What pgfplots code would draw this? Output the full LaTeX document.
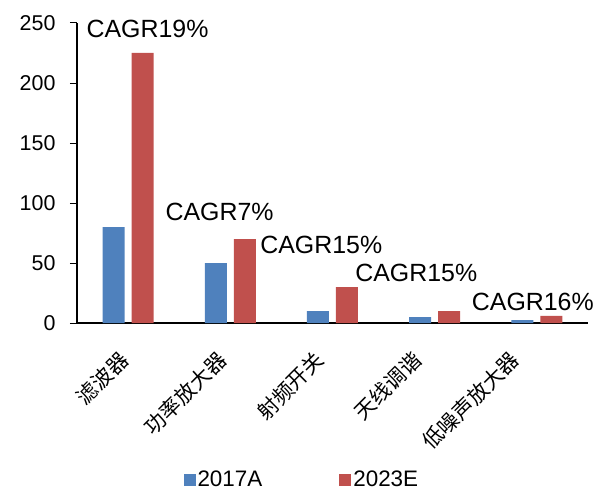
\documentclass[border=0pt]{standalone}
\usepackage{pgfplots}
\pgfplotsset{compat=1.18}
\usepackage{fontspec}
\setmainfont{Liberation Sans}
\newfontfamily\cjk{Noto Sans CJK SC}
\definecolor{sblue}{HTML}{4F81BD}
\definecolor{sred}{HTML}{C0504D}
\begin{document}
\begin{tikzpicture}
\begin{axis}[
  at={(0,0)}, anchor=south west,
  scale only axis,
  width=511bp, height=300bp,
  ybar=7bp, bar width=22bp,
  xmin=-0.5, xmax=4.5,
  ymin=0, ymax=250,
  ytick={0,50,100,150,200,250},
  xtick={0,1,2,3,4},
  xticklabels={滤波器,功率放大器,射频开关,天线调谐,低噪声放大器},
  axis lines*=left,
  axis line style={black, line width=1.2bp},
  tick style={black, line width=1bp},
  xtick style={draw=none},
  major tick length=7bp,
  tick align=outside,
  /pgf/number format/assume math mode=true,
  yticklabel style={font=\fontsize{21.5}{24}\selectfont, xshift=-11bp},
  xticklabel style={font=\cjk\fontsize{21}{23}\selectfont, xshift={-1bp-4.6bp*\ticknum}, yshift=-24bp, rotate=45, anchor=east},
  legend style={at={(0.44,-0.523)}, anchor=center, draw=none, fill=none,
    font=\fontsize{22.5}{24}\selectfont, legend columns=2,
    /tikz/every even column/.append style={column sep=75bp},
    legend cell align=left},
  legend image code/.code={\fill[#1] (0bp,-6bp) rectangle (12bp,6bp);},
  clip=false,
]
\addplot[fill=sblue, draw=none] coordinates {(0,80) (1,50) (2,10) (3,5) (4,2.5)};
\addplot[fill=sred, draw=none] coordinates {(0,225) (1,70) (2,30) (3,10) (4,6)};
\legend{2017A,2023E}
\begin{scope}[font=\fontsize{25}{28}\selectfont]
\node at (axis cs:0.19,245) {CAGR19\%};
\node at (axis cs:0.895,92.5) {CAGR7\%};
\node at (axis cs:1.89,65) {CAGR15\%};
\node at (axis cs:2.82,41.7) {CAGR15\%};
\node at (axis cs:3.96,17.5) {CAGR16\%};
\end{scope}
\end{axis}
\pgfresetboundingbox
\path[use as bounding box] (-77bp,-170bp) rectangle (538bp,323bp);
\end{tikzpicture}
\end{document}
